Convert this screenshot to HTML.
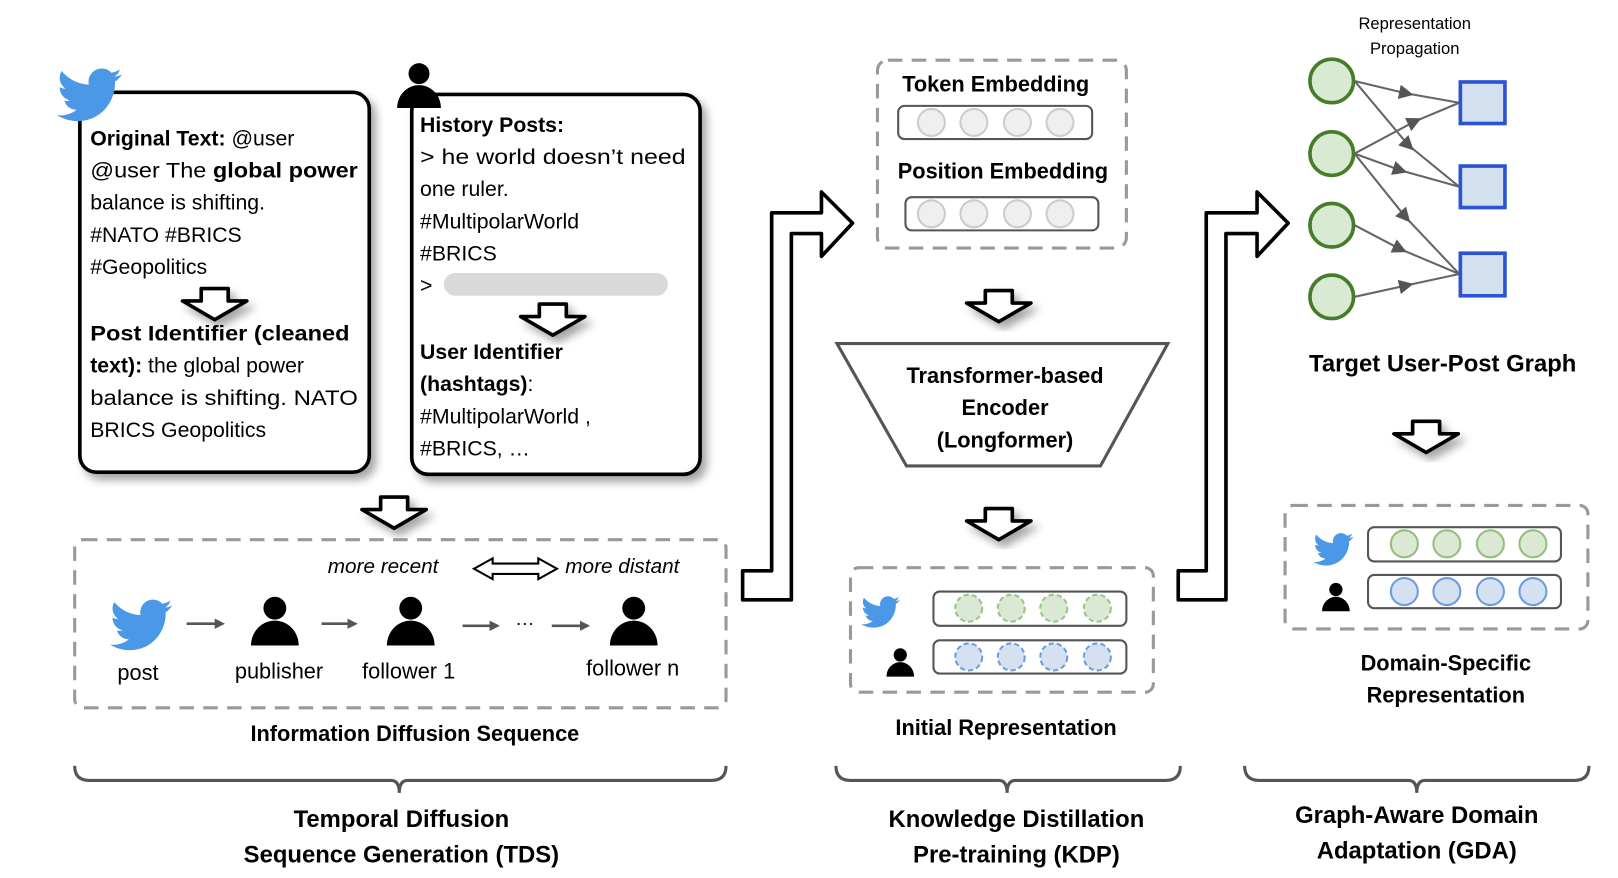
<!DOCTYPE html>
<html><head><meta charset="utf-8"><style>
html,body{margin:0;padding:0;background:#fff;}
svg{display:block;}
text{font-family:"Liberation Sans",sans-serif;fill:#000;}
.b{font-weight:bold;}
</style></head><body>
<svg width="1618" height="878" viewBox="0 0 1560 846" preserveAspectRatio="none" xmlns="http://www.w3.org/2000/svg">
<defs>
<filter id="sh" x="-20%" y="-20%" width="150%" height="150%"><feDropShadow dx="5" dy="6" stdDeviation="4" flood-color="#000" flood-opacity="0.35"/></filter>
<path id="bird" d="M23.6 4.6c-.9.4-1.8.6-2.8.8 1-.6 1.8-1.5 2.1-2.7-.9.6-2 1-3.1 1.2-.9-1-2.2-1.6-3.6-1.6-2.7 0-4.9 2.2-4.9 4.9 0 .4 0 .8.1 1.1C7.3 8.1 3.7 6.2 1.3 3.2c-.4.7-.7 1.6-.7 2.5 0 1.7.9 3.2 2.2 4.1-.8 0-1.6-.2-2.2-.6v.1c0 2.4 1.7 4.4 3.9 4.8-.4.1-.8.2-1.3.2-.3 0-.6 0-.9-.1.6 2 2.4 3.4 4.6 3.4-1.7 1.3-3.8 2.1-6.1 2.1-.4 0-.8 0-1.2-.1 2.2 1.4 4.8 2.2 7.5 2.2 9.1 0 14-7.5 14-14v-.6c1-.7 1.8-1.6 2.5-2.5z" fill="#4a98e6"/>
<g id="person"><circle cx="0" cy="-12" r="11"/><path d="M-23 24 A23 24 0 0 1 23 24 Z"/></g>
<polygon id="down" points="-13,0 13,0 13,12 31,12 0,30 -31,12 -13,12" fill="#fff" stroke="#000" stroke-width="3.5" stroke-linejoin="round"/>
<marker id="ar" markerWidth="10" markerHeight="10" refX="5" refY="5" orient="auto" markerUnits="userSpaceOnUse"><path d="M0,0 L10,5 L0,10 Z" fill="#555"/></marker>
<marker id="ah" viewBox="0 0 10 10" markerWidth="16" markerHeight="14" refX="5" refY="5" orient="auto" markerUnits="userSpaceOnUse"><path d="M0,0 L10,5 L0,10 Z" fill="#555"/></marker>
</defs>

<!-- Box 1 -->
<rect x="77" y="89" width="279" height="366" rx="16" fill="#fff" stroke="#000" stroke-width="3.5" filter="url(#sh)"/>
<use href="#bird" transform="translate(56,60) scale(2.6)"/>
<g font-size="20.5">
<text x="87" y="140"><tspan class="b">Original Text:</tspan> @user</text>
<text x="87" y="171" textLength="258" lengthAdjust="spacingAndGlyphs">@user The <tspan class="b">global power</tspan></text>
<text x="87" y="202">balance is shifting.</text>
<text x="87" y="233">#NATO #BRICS</text>
<text x="87" y="264">#Geopolitics</text>
<text x="87" y="328" class="b" textLength="250" lengthAdjust="spacingAndGlyphs">Post Identifier (cleaned</text>
<text x="87" y="359"><tspan class="b">text):</tspan> the global power</text>
<text x="87" y="390" textLength="258" lengthAdjust="spacingAndGlyphs">balance is shifting. NATO</text>
<text x="87" y="421">BRICS Geopolitics</text>
</g>
<use href="#down" x="207" y="278" filter="url(#sh)"/>

<!-- Box 2 -->
<rect x="397" y="91" width="278" height="366" rx="16" fill="#fff" stroke="#000" stroke-width="3.5" filter="url(#sh)"/>
<use href="#person" transform="translate(404,82) scale(0.92)"/>
<g font-size="20.5">
<text x="405" y="127" class="b">History Posts:</text>
<text x="405" y="158" textLength="256" lengthAdjust="spacingAndGlyphs">&gt; he world doesn’t need</text>
<text x="405" y="189">one ruler.</text>
<text x="405" y="220">#MultipolarWorld</text>
<text x="405" y="251">#BRICS</text>
<text x="405" y="282">&gt;</text>
<text x="405" y="346" class="b">User Identifier</text>
<text x="405" y="377"><tspan class="b">(hashtags)</tspan>:</text>
<text x="405" y="408">#MultipolarWorld ,</text>
<text x="405" y="439">#BRICS, …</text>
</g>
<rect x="428" y="263" width="216" height="22" rx="11" fill="#d9d9d9"/>
<use href="#down" x="533" y="293" filter="url(#sh)"/>

<use href="#down" x="380" y="479" filter="url(#sh)"/>

<!-- Diffusion seq -->
<rect x="72" y="520" width="628" height="162" rx="8" fill="none" stroke="#999" stroke-width="3" stroke-dasharray="14,9"/>
<text x="316" y="552" font-size="20" font-style="italic">more recent</text>
<polygon points="457,548 475,538 475,543 519,543 519,538 537,548 519,558 519,553 475,553 475,558" fill="#fff" stroke="#000" stroke-width="2"/>
<text x="545" y="552" font-size="20" font-style="italic">more distant</text>
<use href="#bird" transform="translate(107,572) scale(2.5)"/>
<use href="#person" transform="translate(265,598)"/>
<use href="#person" transform="translate(396,598)"/>
<use href="#person" transform="translate(611,598)"/>
<g stroke="#555" stroke-width="2.5" marker-end="url(#ar)">
<line x1="180" y1="601" x2="212" y2="601"/>
<line x1="310" y1="601" x2="340" y2="601"/>
<line x1="446" y1="603" x2="477" y2="603"/>
<line x1="532" y1="603" x2="564" y2="603"/>
</g>
<text x="506" y="606" font-size="18" text-anchor="middle">···</text>
<g font-size="21" text-anchor="middle">
<text x="133" y="655">post</text>
<text x="269" y="654">publisher</text>
<text x="394" y="654">follower 1</text>
<text x="610" y="651">follower n</text>
</g>
<text x="400" y="714" font-size="21" class="b" text-anchor="middle">Information Diffusion Sequence</text>

<!-- Braces -->
<g fill="none" stroke="#555" stroke-width="3">
<path d="M72 738 Q72 752 86 752 L377 752 Q385 752 385 764 Q385 752 393 752 L686 752 Q700 752 700 738"/>
<path d="M806 738 Q806 752 820 752 L963 752 Q971 752 971 764 Q971 752 979 752 L1124 752 Q1138 752 1138 738"/>
<path d="M1200 738 Q1200 752 1214 752 L1358 752 Q1366 752 1366 764 Q1366 752 1374 752 L1518 752 Q1532 752 1532 738"/>
</g>
<g font-size="23" class="b" text-anchor="middle">
<text x="387" y="797">Temporal Diffusion</text>
<text x="387" y="831">Sequence Generation (TDS)</text>
<text x="980" y="797">Knowledge Distillation</text>
<text x="980" y="831">Pre-training (KDP)</text>
<text x="1366" y="793">Graph-Aware Domain</text>
<text x="1366" y="827">Adaptation (GDA)</text>
</g>

<!-- Big arrows -->
<polygon points="744,205 792,205 792,185 822,215 792,247 792,225 763,225 763,578 716,578 716,550 744,550" fill="#fff" stroke="#000" stroke-width="3.5" stroke-linejoin="round"/>
<polygon points="1163,205 1212,205 1212,185 1242,215 1212,247 1212,225 1182,225 1182,578 1136,578 1136,550 1163,550" fill="#fff" stroke="#000" stroke-width="3.5" stroke-linejoin="round"/>

<!-- Embedding box -->
<rect x="846" y="58" width="240" height="181" rx="10" fill="none" stroke="#999" stroke-width="3" stroke-dasharray="14,9"/>
<text x="960" y="88" font-size="21" class="b" text-anchor="middle">Token Embedding</text>
<rect x="866" y="102" width="187" height="32" rx="6" fill="#fff" stroke="#555" stroke-width="2"/>
<text x="967" y="172" font-size="21" class="b" text-anchor="middle">Position Embedding</text>
<rect x="873" y="190" width="186" height="32" rx="6" fill="#fff" stroke="#555" stroke-width="2"/>
<g fill="#efefef" stroke="#ccc" stroke-width="2">
<circle cx="898" cy="118" r="13"/><circle cx="939" cy="118" r="13"/><circle cx="981" cy="118" r="13"/><circle cx="1022" cy="118" r="13"/>
<circle cx="898" cy="206" r="13"/><circle cx="939" cy="206" r="13"/><circle cx="981" cy="206" r="13"/><circle cx="1022" cy="206" r="13"/>
</g>
<use href="#down" x="963" y="280" filter="url(#sh)"/>

<polygon points="807,331 1126,331 1061,449 874,449" fill="#fff" stroke="#555" stroke-width="3"/>
<g font-size="21" class="b" text-anchor="middle">
<text x="969" y="369">Transformer-based</text>
<text x="969" y="400">Encoder</text>
<text x="969" y="431">(Longformer)</text>
</g>
<use href="#down" x="963" y="490" filter="url(#sh)"/>

<!-- Initial representation -->
<rect x="820" y="547" width="292" height="120" rx="8" fill="none" stroke="#999" stroke-width="3" stroke-dasharray="14,9"/>
<use href="#bird" transform="translate(831,571) scale(1.55)"/>
<use href="#person" transform="translate(868,638) scale(0.58)"/>
<rect x="900" y="570" width="186" height="33" rx="6" fill="#fff" stroke="#555" stroke-width="2"/>
<rect x="900" y="617" width="186" height="32" rx="6" fill="#fff" stroke="#555" stroke-width="2"/>
<g fill="#dbe8d4" stroke="#9cc48a" stroke-width="2" stroke-dasharray="5,3">
<circle cx="934" cy="586" r="13"/><circle cx="975" cy="586" r="13"/><circle cx="1016" cy="586" r="13"/><circle cx="1058" cy="586" r="13"/>
</g>
<g fill="#d5e1f1" stroke="#6e9be6" stroke-width="2" stroke-dasharray="5,3">
<circle cx="934" cy="633" r="13"/><circle cx="975" cy="633" r="13"/><circle cx="1016" cy="633" r="13"/><circle cx="1058" cy="633" r="13"/>
</g>
<text x="970" y="708" font-size="21" class="b" text-anchor="middle">Initial Representation</text>

<!-- Graph -->
<text x="1364" y="28" font-size="16" text-anchor="middle">Representation</text>
<text x="1364" y="52" font-size="16" text-anchor="middle">Propagation</text>
<g stroke="#666" stroke-width="2" fill="none">
<path d="M1306 78 L1356 90 L1407 99" marker-mid="url(#ah)"/>
<path d="M1306 78 L1358 140 L1407 180" marker-mid="url(#ah)"/>
<path d="M1306 148 L1364 117 L1407 99" marker-mid="url(#ah)"/>
<path d="M1306 148 L1350 164 L1407 180" marker-mid="url(#ah)"/>
<path d="M1306 148 L1355 209 L1407 264" marker-mid="url(#ah)"/>
<path d="M1306 217 L1350 240 L1407 264" marker-mid="url(#ah)"/>
<path d="M1306 286 L1356 275 L1407 264" marker-mid="url(#ah)"/>
</g>
<g fill="#d9ead3" stroke="#467c2a" stroke-width="3.5">
<circle cx="1284" cy="78" r="21"/><circle cx="1284" cy="148" r="21"/><circle cx="1284" cy="217" r="21"/><circle cx="1284" cy="286" r="21"/>
</g>
<g fill="#d3e0f0" stroke="#2b53d4" stroke-width="3.5">
<rect x="1408" y="79" width="43" height="40"/><rect x="1408" y="160" width="43" height="40"/><rect x="1408" y="244" width="43" height="41"/>
</g>
<text x="1391" y="358" font-size="23" class="b" text-anchor="middle">Target User-Post Graph</text>
<use href="#down" x="1375" y="406" filter="url(#sh)"/>

<!-- Domain specific -->
<rect x="1239" y="487" width="292" height="119" rx="8" fill="none" stroke="#999" stroke-width="3" stroke-dasharray="14,9"/>
<use href="#bird" transform="translate(1267,510) scale(1.6)"/>
<use href="#person" transform="translate(1288,575) scale(0.58)"/>
<rect x="1319" y="508" width="186" height="33" rx="6" fill="#fff" stroke="#555" stroke-width="2"/>
<rect x="1319" y="554" width="186" height="32" rx="6" fill="#fff" stroke="#555" stroke-width="2"/>
<g fill="#dbe8d4" stroke="#92c07e" stroke-width="2">
<circle cx="1354" cy="524" r="13"/><circle cx="1395" cy="524" r="13"/><circle cx="1437" cy="524" r="13"/><circle cx="1478" cy="524" r="13"/>
</g>
<g fill="#d5e1f1" stroke="#6e9be6" stroke-width="2">
<circle cx="1354" cy="570" r="13"/><circle cx="1395" cy="570" r="13"/><circle cx="1437" cy="570" r="13"/><circle cx="1478" cy="570" r="13"/>
</g>
<text x="1394" y="646" font-size="21" class="b" text-anchor="middle">Domain-Specific</text>
<text x="1394" y="677" font-size="21" class="b" text-anchor="middle">Representation</text>
</svg>
</body></html>
